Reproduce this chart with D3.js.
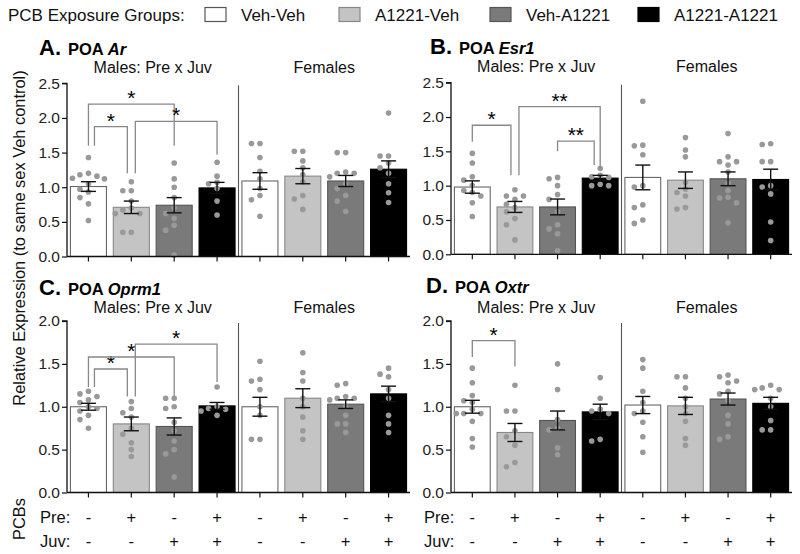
<!DOCTYPE html>
<html><head><meta charset="utf-8">
<script src="https://cdn.jsdelivr.net/npm/d3@7"></script>
<style>body{margin:0;background:#fff}svg{display:block;font-family:"Liberation Sans",Arial,sans-serif}</style>
</head><body>
<svg id="c" width="800" height="554"></svg>
<script>
// ---------- DATA ----------
const groups = ["Veh-Veh", "A1221-Veh", "Veh-A1221", "A1221-A1221"];
const sexLabels = ["Males: Pre x Juv", "Females"];
const preMarks = ["-", "+", "-", "+", "-", "+", "-", "+"];
const juvMarks = ["-", "-", "+", "+", "-", "-", "+", "+"];
const panelLetters = ["A.", "B.", "C.", "D."];
const genes = ["Ar", "Esr1", "Oprm1", "Oxtr"];
const yTicks25 = [0, 0.5, 1.0, 1.5, 2.0, 2.5];
const yTicks20 = [0, 0.5, 1.0, 1.5, 2.0];

const meansAr    = [1.01, 0.71, 0.74, 0.99, 1.09, 1.16, 1.09, 1.26];
const semAr      = [0.07, 0.09, 0.11, 0.08, 0.12, 0.11, 0.08, 0.12];
const meansEsr1  = [0.98, 0.69, 0.69, 1.11, 1.12, 1.08, 1.10, 1.09];
const semEsr1    = [0.09, 0.08, 0.115, 0.04, 0.18, 0.12, 0.10, 0.15];
const meansOprm1 = [1.00, 0.80, 0.77, 1.01, 1.00, 1.10, 1.03, 1.15];
const semOprm1   = [0.04, 0.08, 0.10, 0.04, 0.11, 0.11, 0.05, 0.09];
const meansOxtr  = [1.00, 0.70, 0.84, 0.94, 1.02, 1.01, 1.09, 1.04];
const semOxtr    = [0.075, 0.105, 0.11, 0.09, 0.10, 0.10, 0.07, 0.07];

const pointsAr = [
  [1.43, 1.20, 1.18, 1.16, 1.13, 1.12, 1.05, 0.97, 0.93, 0.85, 0.76, 0.52],
  [1.08, 0.95, 0.95, 0.80, 0.70, 0.67, 0.62, 0.62, 0.35, 0.35],
  [1.35, 1.12, 1.00, 0.85, 0.70, 0.62, 0.55, 0.45, 0.38, 0.02],
  [1.36, 1.16, 1.07, 1.05, 0.98, 0.80, 0.60],
  [1.63, 1.63, 1.43, 1.23, 1.12, 0.98, 0.88, 0.82, 0.58],
  [1.52, 1.52, 1.38, 1.28, 1.18, 1.08, 0.88, 0.83, 0.68],
  [1.50, 1.50, 1.22, 1.20, 1.20, 1.15, 1.05, 0.98, 0.88, 0.80, 0.65],
  [2.07, 1.45, 1.45, 1.35, 1.28, 1.20, 1.05, 0.92, 0.78]
];
const pointsEsr1 = [
  [1.47, 1.33, 1.13, 1.08, 1.00, 0.93, 0.90, 0.85, 0.75, 0.55],
  [0.94, 0.85, 0.85, 0.80, 0.73, 0.68, 0.62, 0.52, 0.43, 0.21],
  [1.12, 1.10, 1.00, 0.87, 0.80, 0.62, 0.43, 0.37, 0.30, 0.05],
  [1.25, 1.15, 1.13, 1.12, 1.02, 1.00, 1.00],
  [2.23, 1.59, 1.58, 1.45, 1.00, 0.98, 0.72, 0.68, 0.50, 0.45],
  [1.70, 1.52, 1.42, 1.05, 0.95, 0.90, 0.85, 0.68, 0.66],
  [1.76, 1.42, 1.35, 1.35, 1.30, 1.20, 1.03, 0.93, 0.83, 0.82, 0.75, 0.46],
  [1.61, 1.60, 1.35, 1.35, 1.00, 0.98, 0.88, 0.47, 0.20]
];
const pointsOprm1 = [
  [1.18, 1.15, 1.12, 1.08, 1.05, 1.00, 0.98, 0.95, 0.90, 0.85, 0.75],
  [1.06, 0.98, 0.93, 0.88, 0.75, 0.68, 0.58, 0.50, 0.42],
  [1.10, 1.10, 1.00, 0.98, 0.82, 0.72, 0.60, 0.50, 0.45, 0.18],
  [1.23, 1.00, 0.98, 0.97, 0.95, 0.90],
  [1.53, 1.32, 1.30, 1.20, 1.00, 0.90, 0.62, 0.62],
  [1.63, 1.40, 1.30, 1.10, 1.00, 0.88, 0.72, 0.62],
  [1.27, 1.25, 1.12, 1.10, 1.10, 1.08, 1.00, 0.90, 0.80, 0.80, 0.70],
  [1.45, 1.38, 1.35, 1.20, 1.10, 0.90, 0.80, 0.70]
];
const pointsOxtr = [
  [1.45, 1.28, 1.13, 1.07, 1.05, 0.97, 0.92, 0.92, 0.92, 0.83, 0.63, 0.53],
  [1.25, 0.95, 0.95, 0.72, 0.65, 0.55, 0.35, 0.30],
  [1.50, 1.20, 0.85, 0.75, 0.73, 0.52, 0.44],
  [1.34, 1.10, 0.97, 0.95, 0.92, 0.62, 0.60],
  [1.55, 1.45, 1.18, 1.05, 0.95, 0.92, 0.82, 0.65, 0.47],
  [1.35, 1.35, 1.22, 1.10, 1.00, 0.92, 0.83, 0.63, 0.55],
  [1.37, 1.35, 1.30, 1.28, 1.18, 1.15, 1.07, 0.90, 0.80, 0.65, 0.62],
  [1.25, 1.22, 1.20, 1.20, 1.10, 1.00, 0.84, 0.73, 0.73]
];

// brackets: [fromBar, toBar, level, leftLegBottom, rightLegBottom, label]
const bracketsAr    = [[0, 2, 2.20, 1.60, 1.60, "*"], [0, 1, 1.875, 1.60, 1.20, "*"], [1, 3, 1.95, 1.20, 1.47, "*"]];
const bracketsEsr1  = [[0, 1, 1.88, 1.64, 1.15, "*"], [1, 3, 2.15, 1.15, 1.25, "**"], [2, 3, 1.65, 1.50, 1.30, "**"]];
const bracketsOprm1 = [[0, 1, 1.44, 1.23, 1.12, "*"], [0, 2, 1.58, 1.23, 1.12, "*"], [1, 3, 1.73, 1.12, 1.29, "*"]];
const bracketsOxtr  = [[0, 1, 1.77, 1.58, 1.47, "*"]];

// ---------- LAYOUT / STYLE ----------
const fills = ["#ffffff", "#c4c4c4", "#7a7a7a", "#000000"];
const strokes = ["#666", "#888", "#555", "#000"];
const FONT = '"Liberation Sans", Arial, sans-serif';

const panels = [
  {letter: panelLetters[0], gene: genes[0], means: meansAr, sem: semAr, pts: pointsAr, br: bracketsAr, ticks: yTicks25,
   x: [67, 410], y: [256.5, 83.3], titleX: 39, titleY: 55, sexY: 73},
  {letter: panelLetters[1], gene: genes[1], means: meansEsr1, sem: semEsr1, pts: pointsEsr1, br: bracketsEsr1, ticks: yTicks25,
   x: [451, 792], y: [254.3, 82.7], titleX: 430, titleY: 54, sexY: 72},
  {letter: panelLetters[2], gene: genes[2], means: meansOprm1, sem: semOprm1, pts: pointsOprm1, br: bracketsOprm1, ticks: yTicks20,
   x: [67, 410], y: [492.5, 321], titleX: 39, titleY: 295, sexY: 313},
  {letter: panelLetters[3], gene: genes[3], means: meansOxtr, sem: semOxtr, pts: pointsOxtr, br: bracketsOxtr, ticks: yTicks20,
   x: [451, 792], y: [492.5, 321], titleX: 426, titleY: 293, sexY: 313}
];

const svg = d3.select("#c");

// legend
const leg = svg.append("g").attr("font-family", FONT).attr("font-size", 17).attr("fill", "#111");
leg.append("text").attr("x", 8).attr("y", 21).text("PCB Exposure Groups:");
const legX = [205, 339, 490, 638];
groups.forEach((g, i) => {
  leg.append("rect").attr("x", legX[i]).attr("y", 7.5).attr("width", 21).attr("height", 14)
    .attr("fill", fills[i]).attr("stroke", i === 0 ? "#555" : strokes[i]).attr("stroke-width", 1.2);
  leg.append("text").attr("x", legX[i] + 36).attr("y", 21).text(g);
});

// global y label
svg.append("text").attr("transform", "translate(25,238) rotate(-90)")
  .attr("text-anchor", "middle").attr("font-family", FONT).attr("font-size", 16.4).attr("fill", "#111")
  .text("Relative Expression (to same sex Veh control)");
svg.append("text").attr("transform", "translate(25,519) rotate(-90)")
  .attr("text-anchor", "middle").attr("font-family", FONT).attr("font-size", 16.4).attr("fill", "#111")
  .text("PCBs");

function swarm(vals, y) {
  const cands = [0, -8.5, 8.5, -4.3, 4.3, -12.5, 12.5, -16, 16];
  const placed = [];
  const order = vals.map((v, i) => i).sort((a, b) => vals[b] - vals[a]);
  const out = new Array(vals.length);
  order.forEach(i => {
    const py = y(vals[i]);
    let dx = 0;
    for (const c of cands) {
      if (placed.every(p => Math.hypot(p.dx - c, p.py - py) >= 6.2)) { dx = c; break; }
    }
    placed.push({dx, py});
    out[i] = {v: vals[i], dx, py};
  });
  return out;
}

panels.forEach((P, pi) => {
  const g = svg.append("g");
  const x = d3.scaleBand().domain(d3.range(8)).range(P.x).paddingInner(0.16).paddingOuter(0.08);
  const y = d3.scaleLinear().domain([0, d3.max(P.ticks)]).range(P.y);
  const cx = i => x(i) + x.bandwidth() / 2;

  // title
  const t = g.append("text").attr("x", P.titleX).attr("y", P.titleY).attr("font-family", FONT).attr("font-weight", "bold").attr("fill", "#000");
  t.append("tspan").attr("font-size", 22).text(P.letter);
  t.append("tspan").attr("font-size", 16.5).attr("dx", 7).text("POA ");
  t.append("tspan").attr("font-size", 16.5).attr("font-style", "italic").text(P.gene);

  // sex labels
  [0, 1].forEach(s => {
    g.append("text").attr("x", (cx(s * 4) + cx(s * 4 + 3)) / 2).attr("y", P.sexY)
      .attr("text-anchor", "middle").attr("font-family", FONT).attr("font-size", 16).attr("fill", "#111")
      .text(sexLabels[s]);
  });

  // bars
  g.selectAll("rect.bar").data(P.means).join("rect")
    .attr("x", (d, i) => x(i)).attr("width", x.bandwidth())
    .attr("y", d => y(d)).attr("height", d => y(0) - y(d))
    .attr("fill", (d, i) => fills[i % 4]).attr("stroke", (d, i) => strokes[i % 4]).attr("stroke-width", 1.1);

  // divider
  const divX = (x(3) + x.bandwidth() + x(4)) / 2;
  g.append("line").attr("x1", divX).attr("x2", divX).attr("y1", y.range()[1] + 2).attr("y2", y(0))
    .attr("stroke", "#555").attr("stroke-width", 1.1);

  // dots
  P.pts.forEach((vals, i) => {
    const sw = swarm(vals, y);
    g.selectAll(null).data(sw).join("circle")
      .attr("cx", d => cx(i) + d.dx).attr("cy", d => d.py).attr("r", 2.8).attr("fill", "#999");
  });

  // error bars
  P.means.forEach((m, i) => {
    const e = P.sem[i];
    const col = "#111";
    g.append("line").attr("x1", cx(i)).attr("x2", cx(i)).attr("y1", y(m - e)).attr("y2", y(m + e)).attr("stroke", col).attr("stroke-width", 1.4);
    [m - e, m + e].forEach(v => g.append("line").attr("x1", cx(i) - 7.5).attr("x2", cx(i) + 7.5).attr("y1", y(v)).attr("y2", y(v)).attr("stroke", col).attr("stroke-width", 1.4));
  });

  // brackets with leg offsets where legs share a bar
  const legs = [];
  P.br.forEach((b, bi) => { legs.push({bi, bar: b[0], side: "L", level: b[2]}); legs.push({bi, bar: b[1], side: "R", level: b[2]}); });
  const off = {};
  legs.forEach(l => {
    const others = legs.filter(o => o.bar === l.bar && o !== l);
    let d = 0;
    others.forEach(o => {
      if (o.side !== l.side) d = l.side === "L" ? 4 : -4;
      else if (o.level > l.level) d = l.side === "L" ? 6 : -6;
    });
    off[l.bi + l.side] = d;
  });
  P.br.forEach((b, bi) => {
    const x1 = cx(b[0]) + off[bi + "L"], x2 = cx(b[1]) + off[bi + "R"];
    const yl = y(b[2]);
    g.append("path").attr("d", `M${x1},${y(b[3])}V${yl}H${x2}V${y(b[4])}`)
      .attr("fill", "none").attr("stroke", "#888").attr("stroke-width", 1.3);
    g.append("text").attr("x", (x1 + x2) / 2).attr("y", yl + 1).attr("text-anchor", "middle")
      .attr("font-family", FONT).attr("font-size", 21).attr("fill", "#000").text(b[5]);
  });

  // axes
  const ya = d3.axisLeft(y).tickValues(P.ticks).tickFormat(d3.format(".1f")).tickSize(5).tickPadding(2);
  const yg = g.append("g").attr("transform", `translate(${P.x[0]},0)`).call(ya);
  const xa = d3.axisBottom(x).tickSize(5).tickFormat("");
  const xg = g.append("g").attr("transform", `translate(0,${y(0)})`).call(xa);
  [yg, xg].forEach(a => {
    a.select(".domain").attr("stroke", "#111").attr("stroke-width", 1.3);
    a.selectAll(".tick line").attr("stroke", "#111").attr("stroke-width", 1.2);
  });
  yg.select(".domain").attr("d", `M-5,${y.range()[1]}H0V${y(0)}`);
  xg.select(".domain").attr("d", `M${P.x[0]},0H${P.x[1]}`);
  yg.selectAll(".tick text").attr("font-family", FONT).attr("font-size", 15.5).attr("fill", "#222");

  // PCB marks for bottom panels
  if (pi >= 2) {
    const rows = [["Pre:", preMarks, 523], ["Juv:", juvMarks, 547]];
    rows.forEach(r => {
      g.append("text").attr("x", P.x[0] - 27).attr("y", r[2]).attr("font-family", FONT).attr("font-size", 16.5).attr("fill", "#111").text(r[0]);
      g.selectAll(null).data(r[1]).join("text")
        .attr("x", (d, i) => cx(i)).attr("y", r[2]).attr("text-anchor", "middle")
        .attr("font-family", FONT).attr("font-size", 16.5).attr("fill", "#111").text(d => d);
    });
  }
});
</script>
</body></html>
